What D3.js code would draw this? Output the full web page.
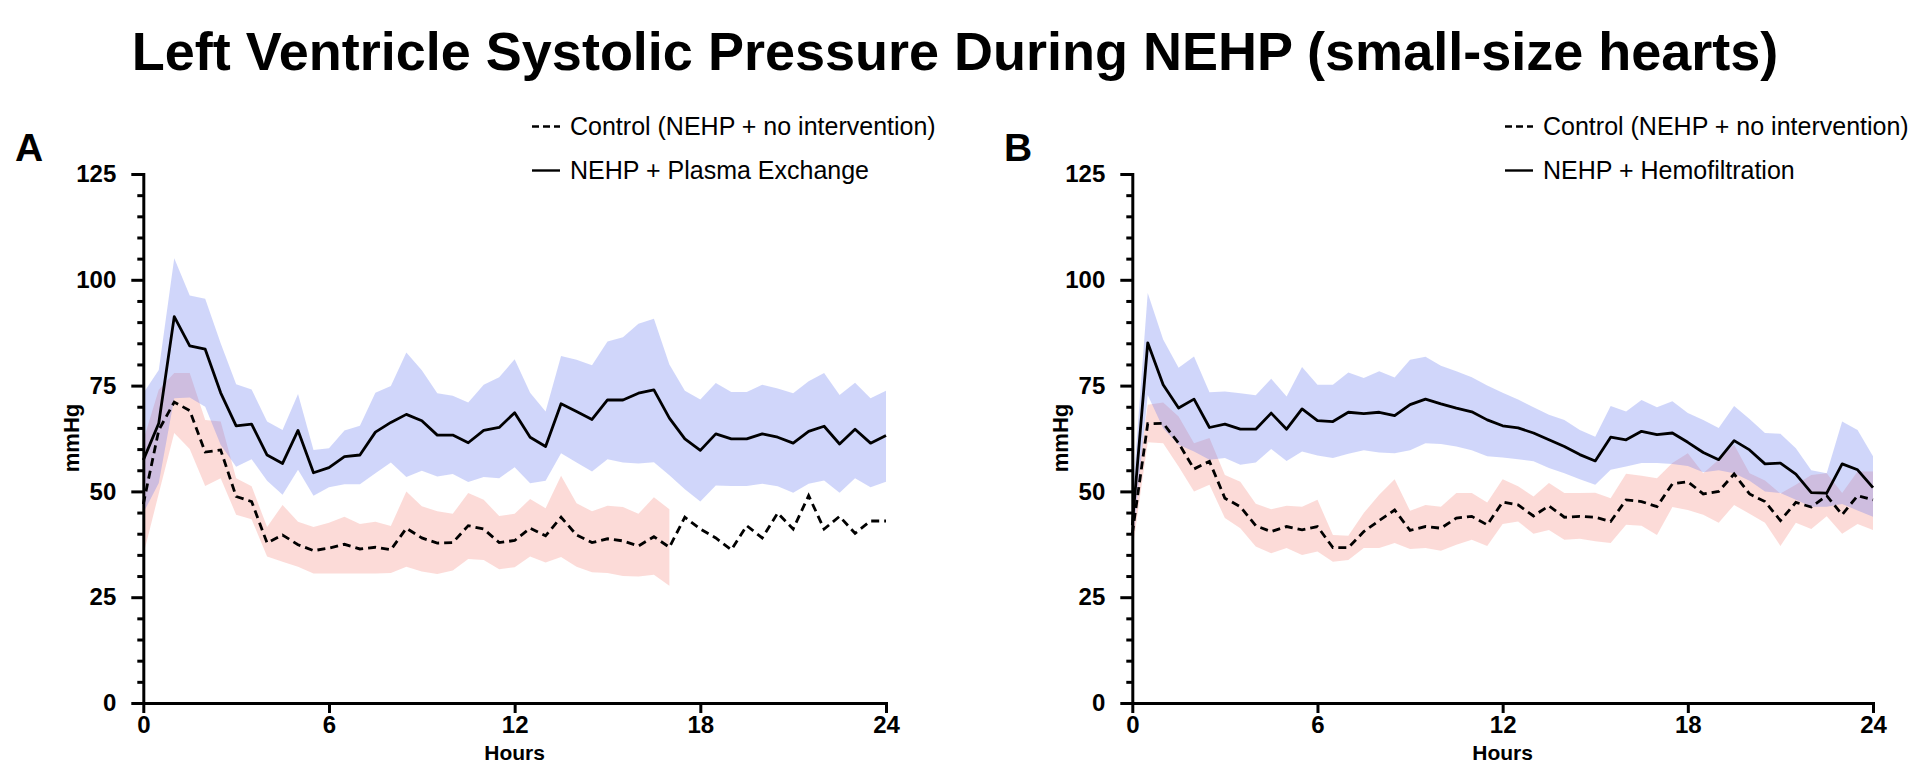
<!DOCTYPE html>
<html><head><meta charset="utf-8">
<script src="https://cdn.jsdelivr.net/npm/d3@7"></script>
<style>
body{margin:0;background:#fff}
svg text{font-family:"Liberation Sans",Arial,Helvetica,sans-serif;fill:#000}
</style>
</head><body>
<svg id="c" width="1925" height="778"></svg>
<script>
// ---------- DATA ----------
const hours = [0,0.5,1,1.5,2,2.5,3,3.5,4,4.5,5,5.5,6,6.5,7,7.5,8,8.5,9,9.5,10,10.5,11,11.5,12,12.5,13,13.5,14,14.5,15,15.5,16,16.5,17,17.5,18,18.5,19,19.5,20,20.5,21,21.5,22,22.5,23,23.5,24];
const xTicks = [0,6,12,18,24];
const yTicks = [0,25,50,75,100,125];

const titleText = "Left Ventricle Systolic Pressure During NEHP (small-size hearts)";
const legendA = ["Control (NEHP + no intervention)", "NEHP + Plasma Exchange"];
const legendB = ["Control (NEHP + no intervention)", "NEHP + Hemofiltration"];

// Panel A – Plasma Exchange (solid) mean and band
const aTreatMean = [57.4,66.1,91.3,84.4,83.6,73.3,65.5,65.9,58.6,56.6,64.4,54.4,55.6,58.2,58.6,64.0,66.3,68.2,66.7,63.3,63.3,61.5,64.4,65.1,68.6,62.8,60.6,70.7,68.9,67.0,71.6,71.6,73.2,74.0,67.3,62.4,59.7,63.6,62.4,62.4,63.6,62.8,61.4,64.2,65.4,61.2,64.7,61.4,63.2];
const aTreatHigh = [73.2,78.7,105.1,96.3,95.5,85.0,75.3,74.1,66.5,64.5,73.0,59.8,60.2,64.4,65.5,73.3,74.9,82.8,78.6,73.2,72.6,71.0,75.2,77.0,81.2,73.3,68.9,82.0,81.1,79.8,85.4,86.4,89.6,90.8,80.0,73.8,71.7,75.6,73.5,73.5,75.2,74.3,73.2,76.0,78.0,72.8,75.7,72.0,73.8];
const aTreatLow  = [44.9,52.0,72.0,72.2,70.0,61.0,55.8,57.6,52.5,49.2,55.1,49.0,51.0,51.7,51.7,54.3,56.8,53.4,54.9,53.5,54.1,52.2,53.4,53.1,55.7,51.9,52.5,59.0,56.8,54.7,57.6,56.8,56.6,56.9,53.8,50.5,47.6,51.4,51.3,51.3,51.8,51.2,49.7,51.8,52.6,49.7,53.1,51.0,52.3];
// Panel A – Control (dashed) mean and band (band only to 17 h)
const aCtrlMean = [47.0,64.5,71.1,69.1,59.3,59.8,48.8,47.6,37.8,39.7,37.4,36.0,36.6,37.5,36.4,36.8,36.2,41.3,39.0,37.8,37.9,41.9,41.1,37.9,38.4,41.3,39.5,43.9,39.7,37.9,38.8,38.3,37.1,39.3,36.8,43.9,41.1,39.0,36.2,41.9,39.0,44.9,41.1,49.0,41.1,44.1,40.1,43.0,43.0];
const aCtrlHigh = [62.0,74.0,78.0,78.0,66.9,66.5,53.1,51.2,41.6,46.8,42.8,41.6,42.6,44.0,42.3,42.8,41.8,50.0,46.5,45.3,44.7,49.6,48.0,44.2,44.7,48.2,46.0,53.7,47.2,45.3,46.6,46.3,44.7,48.6,45.8,null,null,null,null,null,null,null,null,null,null,null,null,null,null];
const aCtrlLow  = [35.0,49.5,63.8,60.0,51.3,53.1,44.5,43.4,34.6,33.4,32.2,30.6,30.6,30.6,30.6,30.6,30.7,32.2,31.1,30.5,31.3,34.0,33.8,31.6,32.1,34.6,33.2,34.5,32.2,30.9,30.7,30.0,29.9,30.3,27.7,null,null,null,null,null,null,null,null,null,null,null,null,null,null];

// Panel B – Hemofiltration (solid) mean and band
const bTreatMean = [42.0,85.1,75.2,69.7,71.8,65.1,65.9,64.7,64.7,68.5,64.7,69.5,66.7,66.5,68.7,68.4,68.7,67.9,70.5,71.8,70.7,69.7,68.8,66.9,65.5,65.0,63.8,62.2,60.6,58.7,57.2,62.8,62.2,64.2,63.4,63.8,61.6,59.2,57.5,62.0,59.8,56.5,56.7,54.1,49.7,49.6,56.5,55.1,50.9];
const bTreatHigh = [48.0,96.9,85.9,79.2,81.9,73.4,73.6,73.2,72.7,76.6,72.4,79.4,75.2,75.2,78.1,76.8,78.4,76.9,81.1,81.8,79.7,78.4,77.0,75.0,73.3,71.7,69.9,68.1,66.9,64.5,62.9,70.2,68.9,71.6,69.9,71.3,68.5,66.9,65.0,70.2,67.1,63.8,63.6,60.2,55.0,54.3,66.5,64.5,58.3];
const bTreatLow  = [37.0,72.8,64.9,61.0,59.4,57.5,57.9,56.3,56.8,60.0,57.2,59.4,58.5,57.9,58.9,59.7,59.2,59.0,59.7,61.4,61.2,60.6,59.7,58.3,58.0,57.6,57.1,55.5,54.3,52.9,51.6,55.1,55.9,56.7,56.7,56.5,56.0,54.5,55.0,54.3,52.5,50.0,49.6,48.0,46.4,46.4,47.0,45.5,44.0];
// Panel B – Control (dashed) mean and band
const bCtrlMean = [40.0,66.0,66.1,61.4,55.3,57.1,48.4,46.4,41.9,40.5,41.7,40.9,41.7,36.7,36.7,40.5,43.1,45.6,40.8,41.7,41.3,43.7,44.1,42.1,47.5,46.8,44.2,46.6,43.9,44.1,43.9,42.9,48.0,47.6,46.4,51.8,52.3,49.4,50.0,54.1,49.4,47.6,43.1,47.4,46.3,49.0,44.5,49.0,48.0];
const bCtrlHigh = [44.0,70.5,71.0,67.7,61.4,62.6,53.9,52.3,47.1,45.8,46.6,46.4,48.0,39.7,39.5,44.9,49.2,52.9,45.4,46.8,46.4,49.6,49.6,47.4,52.9,51.2,48.8,52.0,49.6,49.6,49.7,48.4,54.2,53.7,53.1,56.7,59.0,54.3,57.5,61.0,54.3,52.6,49.5,51.6,53.9,54.3,49.6,54.7,54.7];
const bCtrlLow  = [36.0,61.6,61.4,55.9,50.0,51.6,43.7,41.3,37.0,35.4,36.6,35.0,35.8,33.4,33.8,36.6,36.6,37.8,36.4,36.6,36.0,37.4,38.6,37.1,42.3,42.9,40.0,40.9,38.6,38.8,38.2,37.8,42.1,41.9,39.7,46.3,45.6,44.5,42.6,46.8,44.7,42.6,37.1,42.6,41.1,44.1,40.0,42.3,40.9];

// ---------- DRAW ----------
const svg = d3.select("#c");
const y = d3.scaleLinear().domain([0,125]).range([703,174]);
const minorY = d3.range(0,126,5).filter(v => v % 25 !== 0);

const BLUE = "rgba(100,120,240,0.3)";
const PINK = "rgba(245,110,100,0.25)";

// title fitted to reference width
const title = svg.append("text").attr("x",955).attr("y",70)
  .attr("text-anchor","middle").attr("font-weight","bold").attr("font-size",50).text(titleText);
const tl = title.node().getComputedTextLength();
title.attr("font-size", 50*1647/tl);

function panel(o){
  const x = d3.scaleLinear().domain([0,24]).range([o.x0,o.x1]);
  const g = svg.append("g");
  const rows = hours.map((h,i)=>({h, tm:o.tm[i], th:o.th[i], tl:o.tl[i], cm:o.cm[i], ch:o.ch[i], cl:o.cl[i]}));

  const ctrlArea = d3.area().defined(d=>d.ch!=null && d.cl!=null)
    .x(d=>x(d.h)).y0(d=>y(d.cl)).y1(d=>y(d.ch));
  const treatArea = d3.area().x(d=>x(d.h)).y0(d=>y(d.tl)).y1(d=>y(d.th));
  g.append("path").datum(rows).attr("d",ctrlArea).attr("fill",PINK);
  g.append("path").datum(rows).attr("d",treatArea).attr("fill",BLUE);

  const lineC = d3.line().x(d=>x(d.h)).y(d=>y(d.cm));
  const lineT = d3.line().x(d=>x(d.h)).y(d=>y(d.tm));
  g.append("path").datum(rows).attr("d",lineC).attr("fill","none")
    .attr("stroke","#000").attr("stroke-width",2.8).attr("stroke-dasharray","8,5");
  g.append("path").datum(rows).attr("d",lineT).attr("fill","none")
    .attr("stroke","#000").attr("stroke-width",2.8).attr("stroke-linejoin","round");

  // axes
  const ya = g.append("g").attr("transform",`translate(${o.x0},0)`)
    .call(d3.axisLeft(y).tickValues(yTicks).tickSize(12).tickSizeOuter(0).tickPadding(15));
  const ym = g.append("g").attr("transform",`translate(${o.x0},0)`)
    .call(d3.axisLeft(y).tickValues(minorY).tickSize(6).tickFormat(""));
  ym.select(".domain").remove();
  const xa = g.append("g").attr("transform",`translate(0,703)`)
    .call(d3.axisBottom(x).tickValues(xTicks).tickSize(10).tickSizeOuter(0).tickPadding(3));
  [ya,ym,xa].forEach(a=>{
    a.selectAll("path,line").attr("stroke","#000").attr("stroke-width",3).attr("stroke-linecap","square");
    a.selectAll("text").attr("font-size",24).attr("font-weight","bold")
      .attr("font-family","'Liberation Sans',Arial,sans-serif").attr("fill","#000");
  });
  ym.selectAll("line").attr("stroke-linecap","butt");
  ya.selectAll(".tick line").attr("stroke-linecap","butt");
  xa.selectAll(".tick line").attr("stroke-linecap","butt");

  // axis titles
  g.append("text").attr("x",(o.x0+o.x1)/2).attr("y",760).attr("text-anchor","middle")
    .attr("font-size",21).attr("font-weight","bold").text("Hours");
  g.append("text").attr("transform",`translate(${o.x0-64},438) rotate(-90)`)
    .attr("text-anchor","middle").attr("font-size",22).attr("font-weight","bold").text("mmHg");

  // panel letter
  g.append("text").attr("x",o.lx).attr("y",161).attr("font-size",39).attr("font-weight","bold").text(o.letter);

  // legend
  const ly = [126.5,170.5];
  g.append("line").attr("x1",o.legx).attr("x2",o.legx+28).attr("y1",ly[0]).attr("y2",ly[0])
    .attr("stroke","#000").attr("stroke-width",2.4).attr("stroke-dasharray","7,4");
  g.append("line").attr("x1",o.legx).attr("x2",o.legx+28).attr("y1",ly[1]).attr("y2",ly[1])
    .attr("stroke","#000").attr("stroke-width",2.4);
  o.legend.forEach((t,i)=>{
    g.append("text").attr("x",o.legx+38).attr("y",ly[i]).attr("dy","0.35em")
      .attr("font-size",25).text(t);
  });
}

panel({x0:143.3, x1:886, letter:"A", lx:15, legx:532, legend:legendA,
  tm:aTreatMean, th:aTreatHigh, tl:aTreatLow, cm:aCtrlMean, ch:aCtrlHigh, cl:aCtrlLow});
panel({x0:1132.3, x1:1873, letter:"B", lx:1004, legx:1505, legend:legendB,
  tm:bTreatMean, th:bTreatHigh, tl:bTreatLow, cm:bCtrlMean, ch:bCtrlHigh, cl:bCtrlLow});
</script>
</body></html>
